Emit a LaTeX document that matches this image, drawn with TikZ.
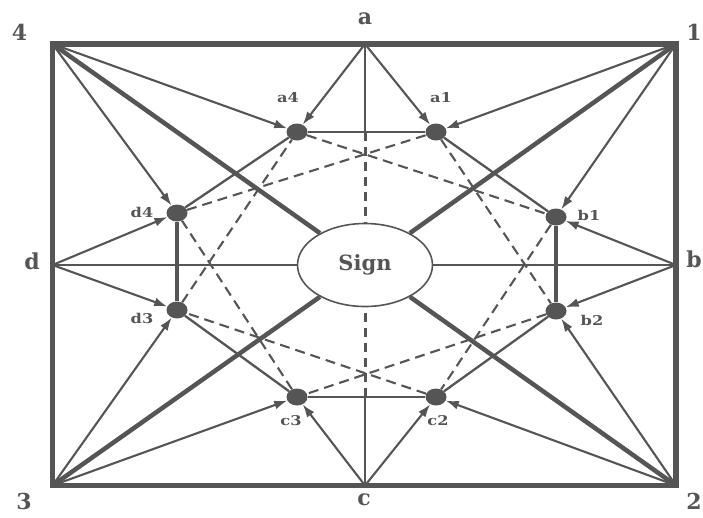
\documentclass[tikz,border=0pt]{standalone}
\usepackage{fontspec}
\setmainfont{DejaVu Serif}
\newfontfamily\tagfont[FakeStretch=1.2]{DejaVu Serif}
\usetikzlibrary{arrows.meta,shapes.geometric,calc}
\definecolor{signGray}{RGB}{85,85,85}
\tikzset{
  frame/.style={line width=5.5pt},
  spoke/.style={line width=4.5pt},
  link/.style={line width=2.3pt},
  rung/.style={line width=3.2pt},
  feed/.style={line width=2.1pt,-{Latex[length=13pt,width=9pt]}},
  chord/.style={line width=2.1pt,dash pattern=on 10pt off 6pt},
  axisdash/.style={line width=3pt,dash pattern=on 9pt off 6pt},
  site/.style={ellipse,fill=signGray,minimum width=21pt,minimum height=17pt,inner sep=0pt},
  sign/.style={ellipse,draw,fill=white,line width=1.6pt,minimum width=135pt,minimum height=83pt,font=\bfseries\fontsize{21}{21}\selectfont},
  tag/.style={font=\tagfont\bfseries\fontsize{13.5}{13.5}\selectfont,inner sep=0pt},
  bigtag/.style={font=\bfseries\fontsize{22}{22}\selectfont,inner sep=0pt}
}

\begin{document}
\begin{tikzpicture}[x=1pt,y=-1pt,color=signGray]
\useasboundingbox (0,0) rectangle (703,517);
% corners and side midpoints
\coordinate (q4) at (52.5,44);
\coordinate (q1) at (676,44);
\coordinate (q2) at (676,485.5);
\coordinate (q3) at (52.5,485.5);
\coordinate (sa) at (365,44);
\coordinate (sb) at (676,265);
\coordinate (sc) at (365,485.5);
\coordinate (sd) at (52.5,265);

\node[sign] (Sign) at (365,265) {Sign};
\node[site] (a4) at (297,132) {};
\node[site] (a1) at (436,132) {};
\node[site] (b1) at (556,217) {};
\node[site] (b2) at (556,311) {};
\node[site] (c2) at (436,397) {};
\node[site] (c3) at (297,397) {};
\node[site] (d3) at (177,310) {};
\node[site] (d4) at (177,213) {};

\node[tag] (la4) at (288,98) {a4};
\node[tag] (la1) at (441,98) {a1};
\node[tag] (lb1) at (589,215) {b1};
\node[tag] (lb2) at (592,320) {b2};
\node[tag] (lc2) at (438,421) {c2};
\node[tag] (lc3) at (291,421) {c3};
\node[tag] (ld3) at (142,318) {d3};
\node[tag] (ld4) at (142,212) {d4};

\node[bigtag] (l4) at (19.5,32) {4};
\node[bigtag] (l1) at (694,32) {1};
\node[bigtag] (l2) at (694,501) {2};
\node[bigtag] (l3) at (24,501) {3};
\node[bigtag] (la) at (365,19) {a};
\node[bigtag] (lb) at (694,259) {b};
\node[bigtag] (lc) at (364,500) {c};
\node[bigtag] (ld) at (32,261) {d};

% frame
\draw[frame] (q4) rectangle (q2);

% heavy spokes to the sign
\draw[spoke] (q1) -- (Sign);
\draw[spoke] (q2) -- (Sign);
\draw[spoke] (q3) -- (Sign);
\draw[spoke] (q4) -- (Sign);

% axes
\draw[link] (sd) -- (Sign);
\draw[link] (sb) -- (Sign);
\draw[link] (sa) -- (sa |- a4);
\draw[axisdash] (sa |- a4) -- (Sign);
\draw[link] (sc) -- (sc |- c3);
\draw[axisdash] (sc |- c3) -- (Sign);

% octagon
\draw[link] (a4) -- (a1);
\draw[link] (a1) -- (b1);
\draw[rung] (b1) -- (b2);
\draw[link] (b2) -- (c2);
\draw[link] (c2) -- (c3);
\draw[link] (c3) -- (d3);
\draw[rung] (d3) -- (d4);
\draw[link] (d4) -- (a4);

% star inside
\foreach \u/\v in {a4/b1,a1/b2,b1/c2,b2/c3,c2/d3,c3/d4,d3/a4,d4/a1}
  \draw[chord] (\u) -- (\v);

% feeds from frame to sites
\foreach \s/\t in {q4/a4,q4/d4,sa/a4,sa/a1,q1/a1,q1/b1,sb/b1,sb/b2,
                   q2/b2,q2/c2,sc/c2,sc/c3,q3/c3,q3/d3,sd/d3,sd/d4}
  \draw[feed] (\s) -- (\t);
\end{tikzpicture}
\end{document}
